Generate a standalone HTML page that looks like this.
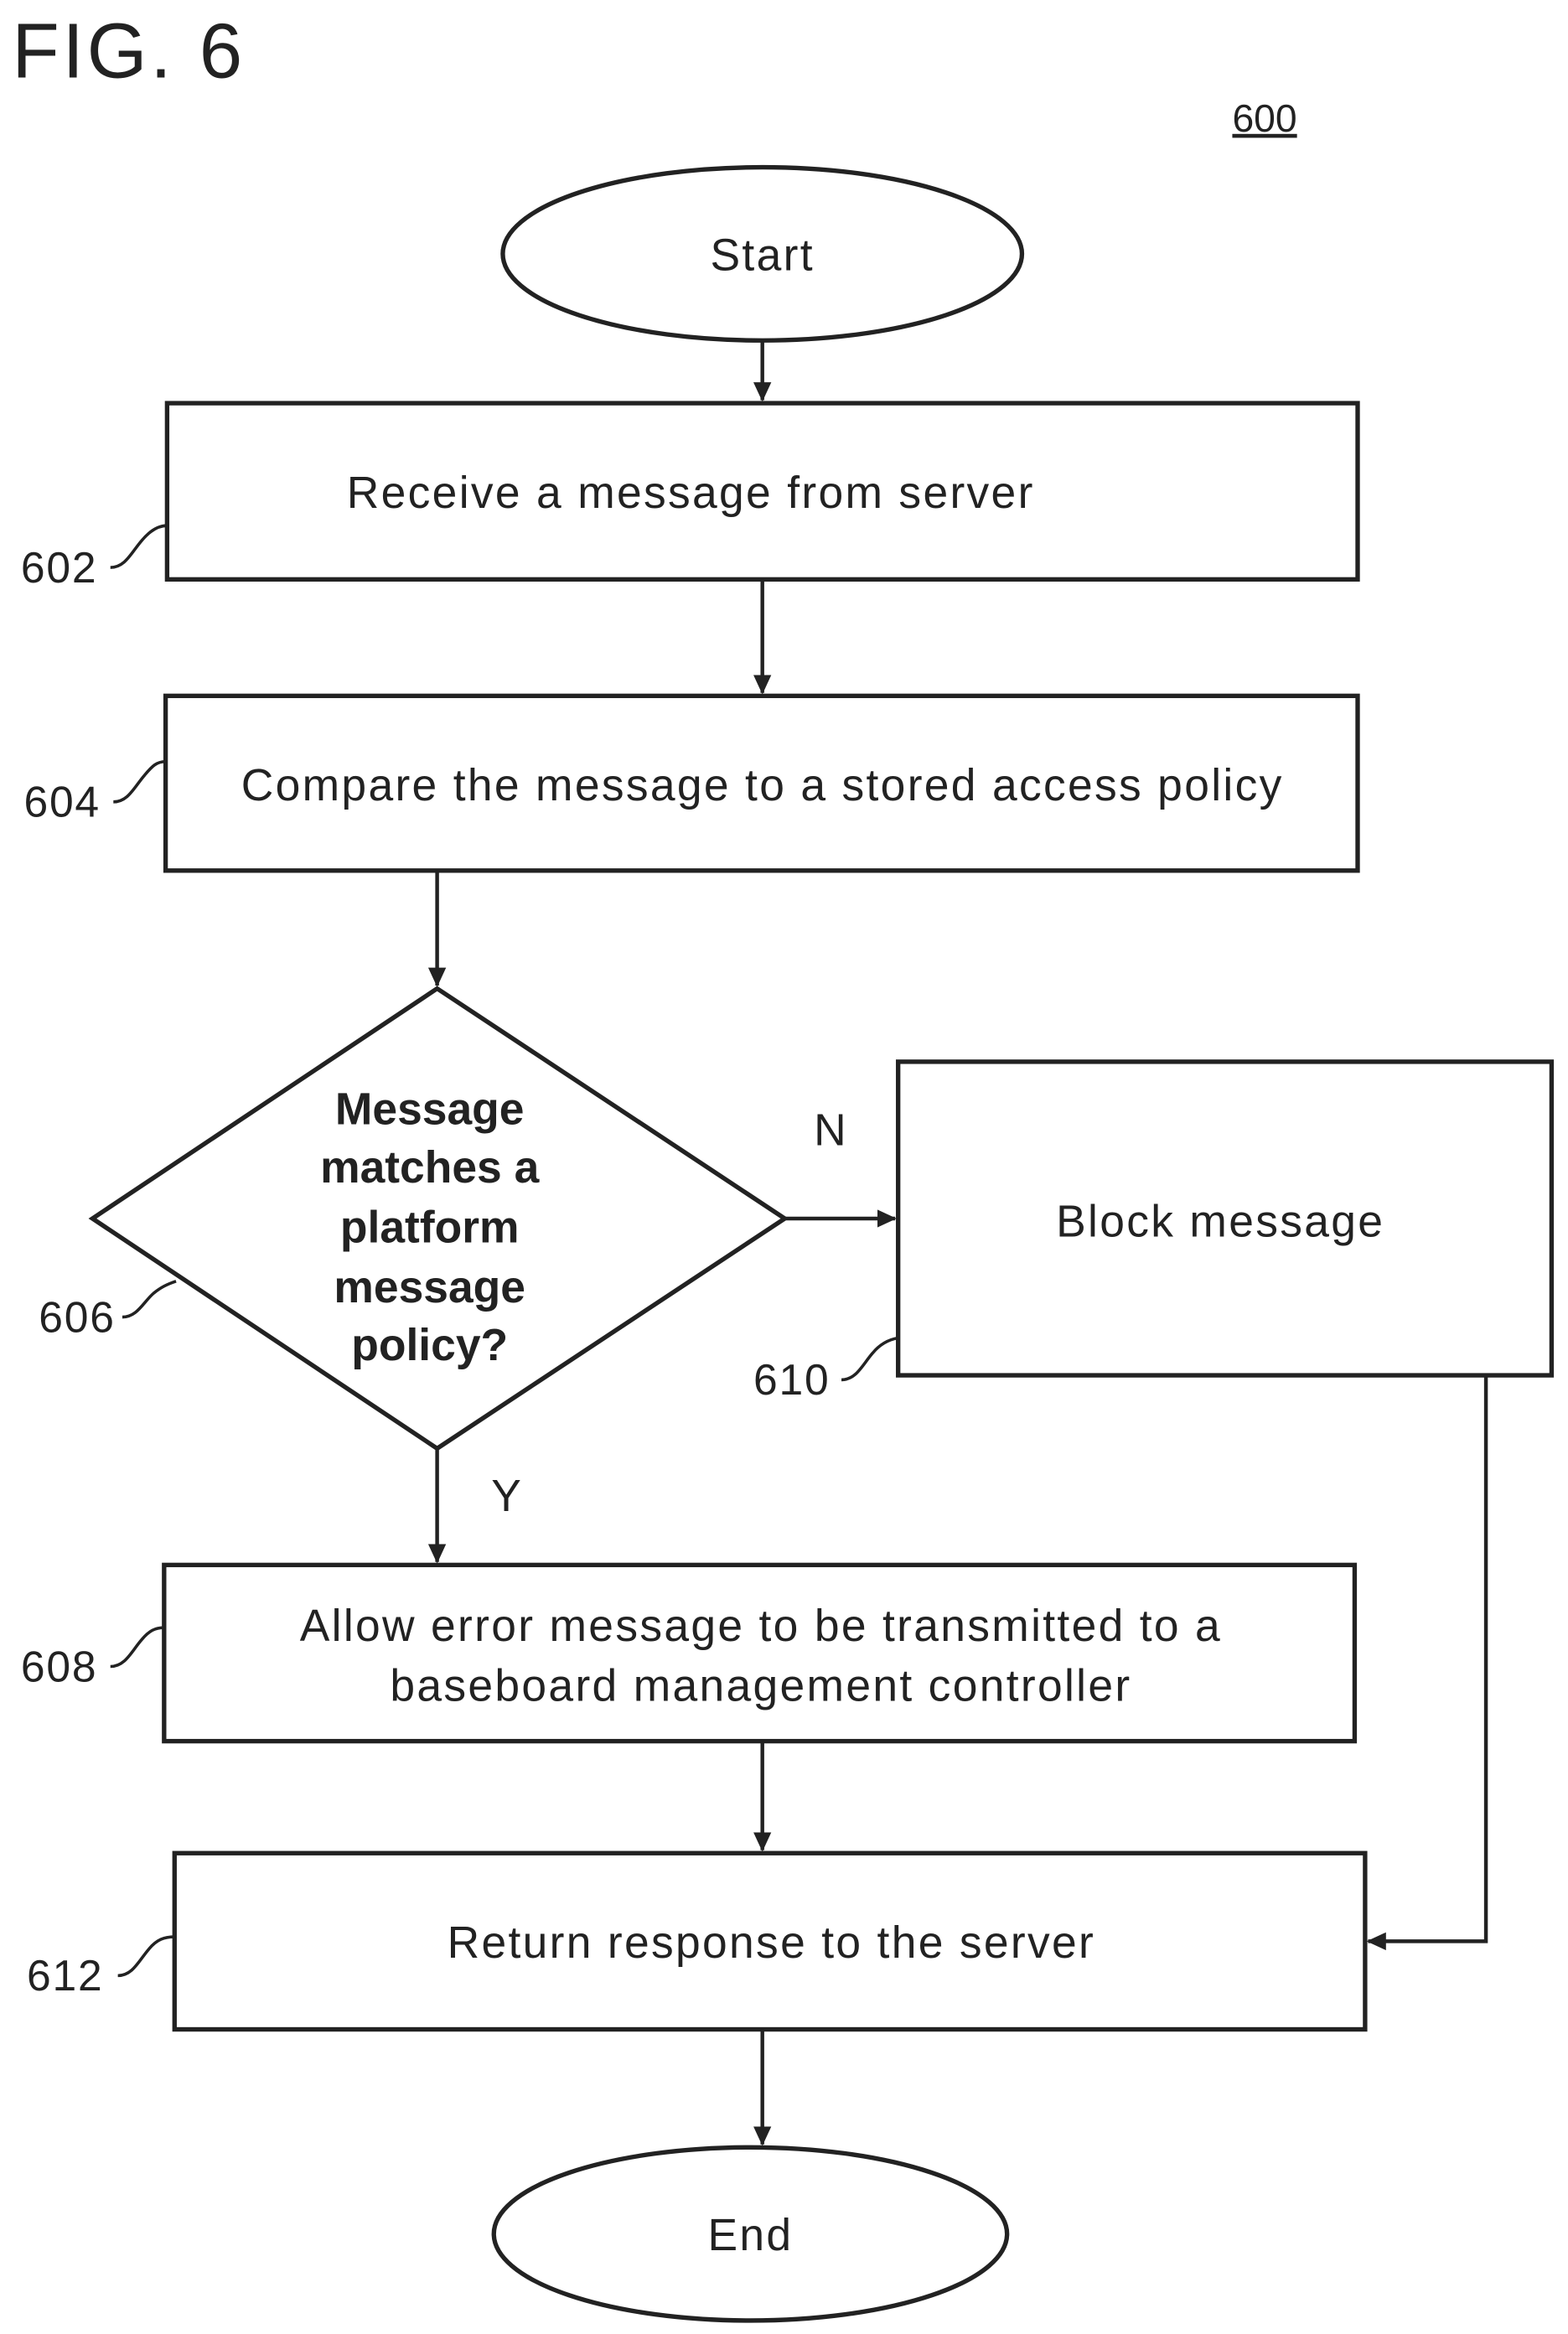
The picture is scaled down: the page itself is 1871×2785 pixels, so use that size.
<!DOCTYPE html>
<html><head><meta charset="utf-8"><style>
html,body{margin:0;padding:0;background:#fff;}
svg{display:block;}
text{font-family:"Liberation Sans",Arial,sans-serif;fill:#222;}
</style></head><body>
<svg width="1871" height="2785" viewBox="0 0 1051 1563" preserveAspectRatio="none" xmlns="http://www.w3.org/2000/svg">
<defs><marker id="a" markerWidth="13" markerHeight="12" refX="12" refY="6" orient="auto" markerUnits="userSpaceOnUse"><path d="M0,0 L13,6 L0,12 z" fill="#222"/></marker></defs>
<g stroke="#222" stroke-width="3" fill="none">
<ellipse cx="511" cy="170" rx="174" ry="58"/>
<rect x="112" y="270" width="798" height="118"/>
<rect x="111" y="466" width="799" height="117"/>
<polygon points="293,662 526,816 293,970 62,816"/>
<rect x="602" y="711" width="438" height="210"/>
<rect x="110" y="1048" width="798" height="118"/>
<rect x="117" y="1241" width="798" height="118"/>
<ellipse cx="503" cy="1496" rx="172" ry="58"/>
</g>
<g stroke="#222" stroke-width="2.5" fill="none" marker-end="url(#a)">
<line x1="511" y1="229" x2="511" y2="268"/>
<line x1="511" y1="389" x2="511" y2="464"/>
<line x1="293" y1="584" x2="293" y2="660"/>
<line x1="526" y1="816" x2="600" y2="816"/>
<line x1="293" y1="971" x2="293" y2="1046"/>
<line x1="511" y1="1167" x2="511" y2="1239"/>
<line x1="511" y1="1360" x2="511" y2="1436"/>
<polyline points="996,921 996,1300 917,1300"/>
</g>
<g stroke="#222" stroke-width="2" fill="none">
<path d="M74,380 C84,380 88,370 95,362 C100,356 106,352 112,352"/>
<path d="M76,537 C86,537 90,527 97,519 C102,513 105,510 111,510"/>
<path d="M82,882 C92,882 96,872 103,866 C108,862 112,860 118,858"/>
<path d="M564,924 C574,924 578,914 585,906 C590,900 596,897 602,896"/>
<path d="M74,1116 C84,1116 88,1106 95,1098 C100,1092 104,1090 110,1090"/>
<path d="M79,1323 C89,1323 93,1313 100,1305 C105,1299 110,1297 117,1297"/>
</g>
<text x="8" y="52" font-size="52" letter-spacing="2">FIG. 6</text>
<text x="826" y="88" font-size="26" text-decoration="underline">600</text>
<g font-size="30" text-anchor="middle" letter-spacing="1.3">
<text x="511" y="181">Start</text>
<text x="463" y="340">Receive a message from server</text>
<text x="511" y="536">Compare the message to a stored access policy</text>
<text x="818" y="828">Block message</text>
<text x="510" y="1099">Allow error message to be transmitted to a</text>
<text x="510" y="1139">baseboard management controller</text>
<text x="517" y="1311">Return response to the server</text>
<text x="503" y="1507">End</text>
<text x="557" y="767">N</text>
<text x="340" y="1012">Y</text>
</g>
<g font-size="30" font-weight="bold" text-anchor="middle" fill="#000">
<text x="288" y="753">Message</text>
<text x="288" y="792">matches a</text>
<text x="288" y="832">platform</text>
<text x="288" y="872">message</text>
<text x="288" y="911">policy?</text>
</g>
<g font-size="29" letter-spacing="1">
<text x="14" y="390">602</text>
<text x="16" y="547">604</text>
<text x="26" y="892">606</text>
<text x="505" y="934">610</text>
<text x="14" y="1126">608</text>
<text x="18" y="1333">612</text>
</g>
</svg>
</body></html>
